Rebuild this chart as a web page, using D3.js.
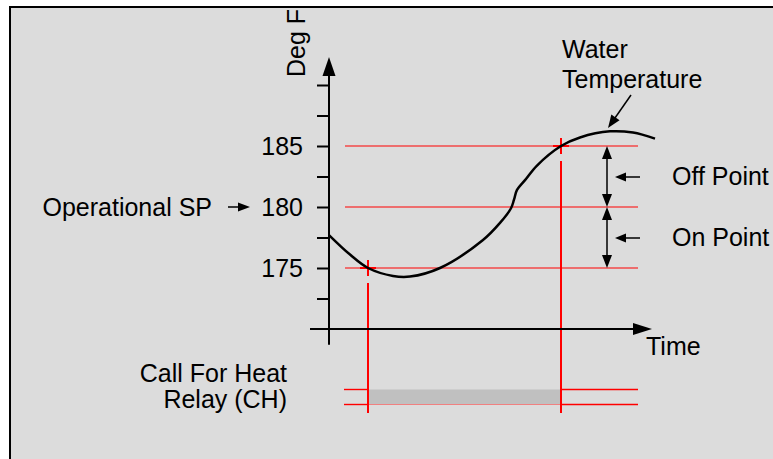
<!DOCTYPE html>
<html>
<head>
<meta charset="utf-8">
<script src="https://cdn.jsdelivr.net/npm/d3@7"></script>
<style>
  body { margin: 0; background: #ffffff; }
  svg text { font-family: "Liberation Sans", Arial, sans-serif; font-size: 25px; fill: #000; }
</style>
</head>
<body>
<div id="svgcontainer"></div>
<script>
// chart data
var TICK_VALUES = [172.5, 175, 177.5, 180, 182.5, 185, 187.5, 190];
var TICK_LABELS = [175, 180, 185];
var SETPOINTS = [175, 180, 185];          // on point, operational SP, off point
var WATER_TIME = [0, 2.1, 3.9, 6.4, 8.1, 11.1, 15.4, 17.1, 18.2, 18.5, 18.8, 19.6, 20.8, 23.2, 25.1, 28.1, 30.4, 32.6];
var WATER_TEMP = [177.7, 176.1, 175.0, 174.35, 174.3, 175.0, 177.3, 178.7, 179.9, 180.6, 181.4, 182.2, 183.4, 185.0, 185.7, 186.2, 186.1, 185.6];
var RELAY_ON = 3.9;    // time the relay closes (temp reaches 175)
var RELAY_OFF = 23.2;  // time the relay opens (temp reaches 185)

var RED = "#ff0000";

// scales
var xScale = d3.scaleLinear().domain([0, 30]).range([329, 629]);
var yScale = d3.scaleLinear().domain([170, 185]).range([329, 146]);

var svg_container = d3.select("#svgcontainer")
    .append("svg")
    .attr("width", 773)
    .attr("height", 459);

// frame
svg_container.append("rect")
    .attr("x", 10).attr("y", 7)
    .attr("width", 800).attr("height", 480)
    .attr("fill", "#dcdcdc")
    .attr("stroke", "black")
    .attr("stroke-width", 2);

// setpoint lines
svg_container.selectAll(".sp")
    .data(SETPOINTS)
    .enter().append("line")
    .attr("x1", xScale(1.6)).attr("x2", xScale(30.9))
    .attr("y1", function(d) { return yScale(d); })
    .attr("y2", function(d) { return yScale(d); })
    .attr("stroke", RED)
    .attr("stroke-width", 1);

// relay bar and lines
var RELAY_TOP = 389.5, RELAY_BOTTOM = 404.5;
svg_container.append("rect")
    .attr("x", xScale(RELAY_ON))
    .attr("y", RELAY_TOP)
    .attr("width", xScale(RELAY_OFF) - xScale(RELAY_ON))
    .attr("height", RELAY_BOTTOM - RELAY_TOP)
    .attr("fill", "#c0c0c0");
[[xScale(1.5), xScale(RELAY_ON)], [xScale(RELAY_OFF), xScale(30.9)]].forEach(function(seg) {
    [RELAY_TOP, RELAY_BOTTOM].forEach(function(y) {
        svg_container.append("line")
            .attr("x1", seg[0]).attr("x2", seg[1])
            .attr("y1", y).attr("y2", y)
            .attr("stroke", RED).attr("stroke-width", 1.4);
    });
});
svg_container.append("line")
    .attr("x1", xScale(RELAY_ON)).attr("x2", xScale(RELAY_OFF))
    .attr("y1", RELAY_BOTTOM).attr("y2", RELAY_BOTTOM)
    .attr("stroke", "#f08080").attr("stroke-width", 1);

// vertical switch lines
[[RELAY_ON, 175], [RELAY_OFF, 185]].forEach(function(p) {
    var cx = xScale(p[0]), cy = yScale(p[1]);
    svg_container.append("line")
        .attr("x1", cx).attr("x2", cx)
        .attr("y1", cy + 15).attr("y2", 413)
        .attr("stroke", RED).attr("stroke-width", 2);
    // cross marker
    svg_container.append("path")
        .attr("d", "M" + (cx - 8) + "," + cy + "H" + (cx + 8) + "M" + cx + "," + (cy - 8) + "V" + (cy + 8))
        .attr("stroke", RED).attr("stroke-width", 2);
});

// y axis ticks and labels
var yAxis = d3.axisLeft(yScale)
    .tickValues(TICK_VALUES)
    .tickSize(12)
    .tickPadding(14)
    .tickFormat(function(d) { return TICK_LABELS.indexOf(d) >= 0 ? d : ""; });
var gAxis = svg_container.append("g")
    .attr("transform", "translate(" + xScale(0) + ",0)")
    .call(yAxis);
gAxis.select(".domain").remove();
gAxis.selectAll(".tick line").attr("stroke", "black").attr("stroke-width", 2);
gAxis.selectAll(".tick text").attr("dy", "0.35em");
gAxis.attr("font-size", null).attr("font-family", null);

// axis lines with arrows
function arrowHead(tipX, tipY, angle, len, half) {
    var ca = Math.cos(angle), sa = Math.sin(angle);
    var bx = tipX - len * ca, by = tipY - len * sa;
    return "M" + tipX + "," + tipY +
        "L" + (bx - half * sa) + "," + (by + half * ca) +
        "L" + (bx + half * sa) + "," + (by - half * ca) + "Z";
}

svg_container.append("line")
    .attr("x1", xScale(0)).attr("x2", xScale(0))
    .attr("y1", yScale(168.7)).attr("y2", 70)
    .attr("stroke", "black").attr("stroke-width", 2);
svg_container.append("path")
    .attr("d", arrowHead(xScale(0), 57, -Math.PI / 2, 19, 6.5))
    .attr("fill", "black");

svg_container.append("line")
    .attr("x1", xScale(-1.9)).attr("x2", 640)
    .attr("y1", yScale(170)).attr("y2", yScale(170))
    .attr("stroke", "black").attr("stroke-width", 2);
svg_container.append("path")
    .attr("d", arrowHead(652, yScale(170), 0, 19, 6))
    .attr("fill", "black");

// water temperature curve
var waterData = WATER_TIME.map(function(t, i) { return [t, WATER_TEMP[i]]; });
var line = d3.line()
    .x(function(d) { return xScale(d[0]); })
    .y(function(d) { return yScale(d[1]); })
    .curve(d3.curveCatmullRom.alpha(0.5));
svg_container.append("path")
    .datum(waterData)
    .attr("d", line)
    .attr("fill", "none")
    .attr("stroke", "black")
    .attr("stroke-width", 2.5);

// double arrows for on / off differential
function doubleArrow(x, y1, y2) {
    svg_container.append("line")
        .attr("x1", x).attr("x2", x)
        .attr("y1", y1 + 10).attr("y2", y2 - 10)
        .attr("stroke", "black").attr("stroke-width", 1.5);
    svg_container.append("path").attr("d", arrowHead(x, y1, -Math.PI / 2, 13, 5)).attr("fill", "black");
    svg_container.append("path").attr("d", arrowHead(x, y2, Math.PI / 2, 13, 5)).attr("fill", "black");
}
doubleArrow(607, yScale(185), yScale(180));
doubleArrow(607, yScale(180), yScale(175));

function pointer(x1, y1, x2, y2, len, half) {
    var ang = Math.atan2(y2 - y1, x2 - x1);
    svg_container.append("line")
        .attr("x1", x1).attr("y1", y1)
        .attr("x2", x2 - (len - 2) * Math.cos(ang)).attr("y2", y2 - (len - 2) * Math.sin(ang))
        .attr("stroke", "black").attr("stroke-width", 1.5);
    svg_container.append("path").attr("d", arrowHead(x2, y2, ang, len, half)).attr("fill", "black");
}
pointer(640, 177, 615, 177, 11, 4.5);
pointer(640, 238, 615, 238, 11, 4.5);
pointer(228, yScale(180), 250, yScale(180), 12, 4.5);
pointer(631, 95, 608, 128, 13, 5);

// labels
svg_container.append("text")
    .attr("transform", "translate(305,77) rotate(-90)")
    .text("Deg F");
svg_container.append("text").attr("x", 562).attr("y", 58).text("Water");
svg_container.append("text").attr("x", 562).attr("y", 88).text("Temperature");
svg_container.append("text").attr("x", 672).attr("y", 185).text("Off Point");
svg_container.append("text").attr("x", 672).attr("y", 246).text("On Point");
svg_container.append("text").attr("x", 212).attr("y", 216).attr("text-anchor", "end").text("Operational SP");
svg_container.append("text").attr("x", 646).attr("y", 355).text("Time");
svg_container.append("text").attr("x", 287).attr("y", 382).attr("text-anchor", "end").text("Call For Heat");
svg_container.append("text").attr("x", 287).attr("y", 408).attr("text-anchor", "end").text("Relay (CH)");
</script>
</body>
</html>
